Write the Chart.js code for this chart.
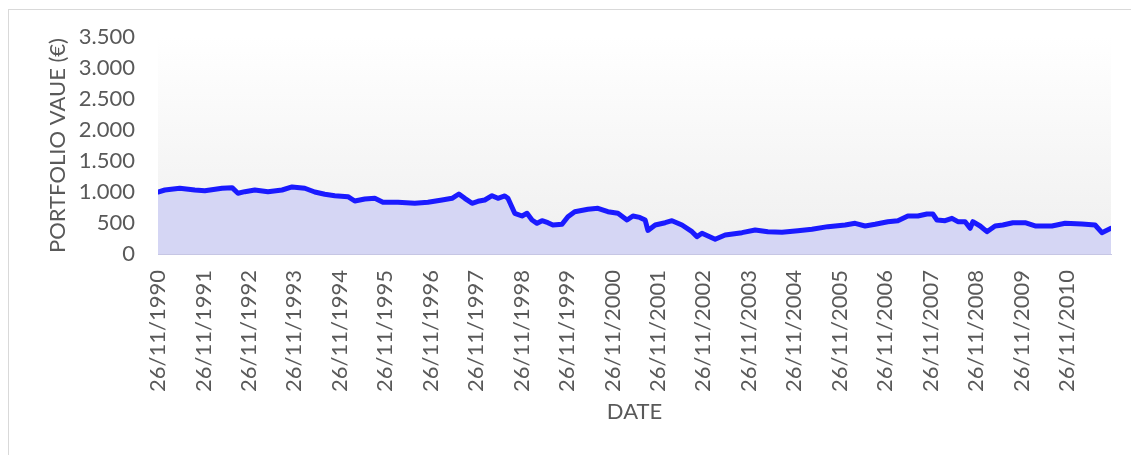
<!DOCTYPE html>
<html><head><meta charset="utf-8">
<script src="https://cdn.jsdelivr.net/npm/chart.js@4/dist/chart.umd.min.js"></script>
<style>
html,body{margin:0;padding:0;background:#fff;overflow:hidden}
#wrap{position:relative;width:1131px;height:455px;overflow:hidden}
#frame{position:absolute;left:8px;top:9px;width:1140px;height:470px;border:1px solid #d9d9d9;box-sizing:border-box}
canvas{position:absolute;left:0;top:0}
</style></head><body>
<div id="wrap"><div id="frame"></div><canvas id="c" width="1131" height="455"></canvas></div>
<script>
// years elapsed since 26/11/1990
const years = [0,0.15,0.48,0.81,1.03,1.41,1.63,1.76,1.91,2.13,2.42,2.73,2.95,3.23,3.45,3.67,3.89,4.18,4.33,4.55,4.77,4.95,5.28,5.65,5.94,6.25,6.47,6.62,6.75,6.91,7.04,7.19,7.35,7.48,7.63,7.70,7.85,8.01,8.12,8.23,8.34,8.45,8.58,8.69,8.89,9.02,9.17,9.46,9.68,9.90,10.12,10.32,10.45,10.60,10.72,10.78,10.94,11.16,11.31,11.53,11.75,11.86,11.97,12.26,12.48,12.85,13.14,13.42,13.73,14.08,14.39,14.74,15.12,15.34,15.56,15.78,16.06,16.28,16.50,16.72,16.92,17.05,17.14,17.32,17.47,17.60,17.76,17.87,17.93,18.09,18.24,18.42,18.59,18.81,19.08,19.30,19.67,19.96,20.33,20.62,20.77,20.97];
// portfolio value (€)
const values = [1000,1032,1060,1032,1021,1060,1070,979,1005,1032,1005,1032,1081,1060,1000,963,941,925,855,887,898,834,834,818,834,871,898,968,898,818,850,871,941,898,936,898,656,613,656,548,495,537,505,468,479,602,682,721,737,682,656,548,613,590,548,380,468,505,537,468,360,280,334,237,306,344,387,360,350,376,398,441,468,495,452,479,521,537,613,613,645,645,548,537,575,521,521,414,521,452,360,452,468,505,505,452,452,495,484,468,344,414];
const xTickValues = [0,1,2,3,4,5,6,7,8,9,10,11,12,13,14,15,16,17,18,19,20];
const xTickLabels = ['26/11/1990','26/11/1991','26/11/1992','26/11/1993','26/11/1994','26/11/1995','26/11/1996','26/11/1997','26/11/1998','26/11/1999','26/11/2000','26/11/2001','26/11/2002','26/11/2003','26/11/2004','26/11/2005','26/11/2006','26/11/2007','26/11/2008','26/11/2009','26/11/2010'];
const yTickValues = [0,500,1000,1500,2000,2500,3000,3500];
const yTickLabels = ['0','500','1.000','1.500','2.000','2.500','3.000','3.500'];

const FONT = {family:'Lato, "Open Sans", sans-serif', size:22};
const TXT = '#595959';

const bgPlugin = {
  id:'bg',
  beforeDraw(chart){
    const {ctx, chartArea:a} = chart;
    const g = ctx.createLinearGradient(0, a.top, 0, a.bottom);
    g.addColorStop(0, '#ffffff');
    g.addColorStop(1, '#efefef');
    ctx.save();
    ctx.fillStyle = g;
    ctx.fillRect(a.left, a.top, a.right - a.left, a.bottom - a.top);
    ctx.restore();
  }
};

new Chart(document.getElementById('c'), {
  type:'line',
  data:{
    datasets:[{
      data: years.map((y,i)=>({x:y, y:values[i]})),
      borderColor:'#1a1aff',
      borderWidth:5,
      backgroundColor:'rgb(213,214,244)',
      fill:'origin',
      pointRadius:0,
      tension:0,
      borderJoinStyle:'round',
      borderCapStyle:'round'
    }]
  },
  options:{
    responsive:false,
    animation:false,
    layout:{padding:{left:8, top:37, right:20, bottom:0}},
    plugins:{legend:{display:false}, tooltip:{enabled:false}},
    scales:{
      x:{
        type:'linear', min:0, max:20.97,
        afterBuildTicks: ax => { ax.ticks = xTickValues.map(v=>({value:v})); },
        afterFit: s => { s.height = 201; },
        ticks:{autoSkip:false, maxRotation:90, minRotation:90, padding:16, color:TXT, font:FONT,
          callback:(v,i)=>xTickLabels[i]},
        grid:{display:false, drawTicks:false},
        border:{display:true, color:'#c6c6e4', width:1},
        title:{display:true, text:'DATE', color:TXT, font:FONT, padding:{top:0,bottom:30}}
      },
      y:{
        min:0, max:3500,
        afterBuildTicks: ax => { ax.ticks = yTickValues.map(v=>({value:v})); },
        afterFit: s => { s.width = 150; },
        ticks:{padding:23, color:TXT, font:FONT, callback:(v,i)=>yTickLabels[i]},
        grid:{display:false, drawTicks:false},
        border:{display:false},
        title:{display:true, text:'PORTFOLIO VAUE (€)', color:TXT, font:FONT, padding:{top:37,bottom:0}}
      }
    }
  },
  plugins:[bgPlugin]
});
</script>
</body></html>
